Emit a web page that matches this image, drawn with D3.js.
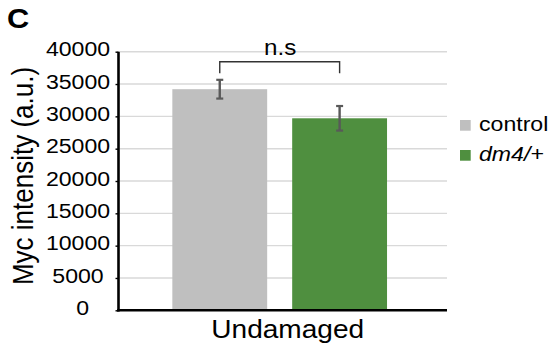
<!DOCTYPE html>
<html><head><meta charset="utf-8">
<script src="https://cdn.jsdelivr.net/npm/d3@7"></script>
<style>
html,body{margin:0;padding:0;background:#fff;}
svg{display:block;font-family:"Liberation Sans",Arial,Helvetica,sans-serif;}
</style></head>
<body>
<svg id="chart" width="553" height="347"></svg>
<script>
const categories = ["Undamaged"];
const seriesNames = ["control", "dm4/+"];
const seriesValues = [34200, 29700];
const seriesErrors = [1450, 1900];
const yTicks = [0, 5000, 10000, 15000, 20000, 25000, 30000, 35000, 40000];
const colors = ["#bfbfbf", "#4f8f3f"];
const sigLabel = "n.s";
const yTitle = "Myc intensity (a.u.)";
const panelLabel = "C";

const SX = 1.1; // horizontal text stretch seen in reference
const svg = d3.select("#chart");
const mLeft = 118.5, mRight = 447, mTop = 51.7, mBottom = 310.3;

const y = d3.scaleLinear().domain([0, 40000]).range([mBottom, mTop]);
const x0 = d3.scaleBand().domain(categories).range([mLeft + 1.5, mRight])
  .paddingInner(0).paddingOuter(0.2615).align(0.466);
const x1 = d3.scaleBand().domain(seriesNames).range([0, x0.bandwidth()])
  .paddingInner(0.2086).paddingOuter(0);

// gridlines
svg.append("g").selectAll("line").data(yTicks.filter(d => d > 0)).join("line")
  .attr("x1", mLeft + 1).attr("x2", mRight)
  .attr("y1", d => y(d)).attr("y2", d => y(d))
  .attr("stroke", "#d9d9d9").attr("stroke-width", 1.4);

// y axis
const yAxis = svg.append("g").attr("transform", `translate(${mLeft},0)`)
  .call(d3.axisLeft(y).tickValues(yTicks).tickSize(3).tickPadding(0).tickFormat(d3.format("d")));
yAxis.select(".domain").remove();
yAxis.selectAll(".tick line").attr("stroke", "#000").attr("stroke-width", 1.4);
yAxis.selectAll(".tick text")
  .attr("text-anchor", "middle")
  .attr("x", d => d === 0 ? -32.6 : -36.8).attr("dy", "0.2em")
  .attr("transform", `scale(${SX},1)`)
  .attr("font-size", 21).attr("font-family", "Liberation Sans, Arial, sans-serif")
  .attr("fill", "#000");

// bars
const g = svg.append("g").attr("transform", `translate(${x0(categories[0])},0)`);
g.selectAll("rect").data(seriesNames).join("rect")
  .attr("x", d => x1(d)).attr("width", x1.bandwidth())
  .attr("y", (d, i) => y(seriesValues[i]))
  .attr("height", (d, i) => y(0) - y(seriesValues[i]))
  .attr("fill", (d, i) => colors[i]);

// error bars
const eb = g.selectAll("g.err").data(seriesNames).join("g").attr("class", "err");
eb.append("line")
  .attr("x1", d => x1(d) + x1.bandwidth() / 2).attr("x2", d => x1(d) + x1.bandwidth() / 2)
  .attr("y1", (d, i) => y(seriesValues[i] + seriesErrors[i]))
  .attr("y2", (d, i) => y(seriesValues[i] - seriesErrors[i]))
  .attr("stroke", "#595959").attr("stroke-width", 2.4);
[1, -1].forEach(s => {
  eb.append("line")
    .attr("x1", d => x1(d) + x1.bandwidth() / 2 - 3.5).attr("x2", d => x1(d) + x1.bandwidth() / 2 + 3.5)
    .attr("y1", (d, i) => y(seriesValues[i] + s * seriesErrors[i]))
    .attr("y2", (d, i) => y(seriesValues[i] + s * seriesErrors[i]))
    .attr("stroke", "#595959").attr("stroke-width", 2.2);
});

// axes lines
svg.append("line").attr("x1", mLeft).attr("x2", mLeft).attr("y1", mTop).attr("y2", mBottom + 1.2)
  .attr("stroke", "#000").attr("stroke-width", 2.6);
svg.append("line").attr("x1", mLeft - 1.3).attr("x2", mRight).attr("y1", mBottom).attr("y2", mBottom)
  .attr("stroke", "#000").attr("stroke-width", 2.6);

// x label
svg.append("text")
  .attr("transform", `translate(${x0(categories[0]) + x0.bandwidth() / 2 + 8},338) scale(${SX},1)`)
  .attr("text-anchor", "middle").attr("font-size", 25.5).attr("fill", "#000")
  .text(categories[0]);

// significance bracket
const cx = n => x0(categories[0]) + x1(n) + x1.bandwidth() / 2;
const by = 61.7, bt = 73.3;
svg.append("path")
  .attr("d", `M${cx(seriesNames[0])},${bt}V${by}H${cx(seriesNames[1])}V${bt}`)
  .attr("fill", "none").attr("stroke", "#333").attr("stroke-width", 1.4);
svg.append("text")
  .attr("transform", `translate(${(cx(seriesNames[0]) + cx(seriesNames[1])) / 2 + 0.5},55) scale(${SX},1)`)
  .attr("text-anchor", "middle").attr("font-size", 22).attr("fill", "#000")
  .text(sigLabel);

// y title
svg.append("text")
  .attr("transform", `translate(33,176) scale(${SX},1) rotate(-90)`)
  .attr("text-anchor", "middle").attr("font-size", 26).attr("fill", "#000")
  .text(yTitle);

// panel label
svg.append("text")
  .attr("transform", `translate(7,28) scale(${SX},1)`)
  .attr("font-size", 28).attr("font-weight", "bold").attr("fill", "#000")
  .text(panelLabel);

// legend
const lg = svg.append("g").selectAll("g").data(seriesNames).join("g")
  .attr("transform", (d, i) => `translate(460,${120 + i * 30})`);
lg.append("rect").attr("width", 10.7).attr("height", 10.7).attr("fill", (d, i) => colors[i]);
lg.append("text")
  .attr("transform", `translate(19,11) scale(${SX},1)`)
  .attr("font-size", 21).attr("fill", "#000")
  .attr("font-style", (d, i) => i === 1 ? "italic" : "normal")
  .text(d => d);
</script>
</body></html>
